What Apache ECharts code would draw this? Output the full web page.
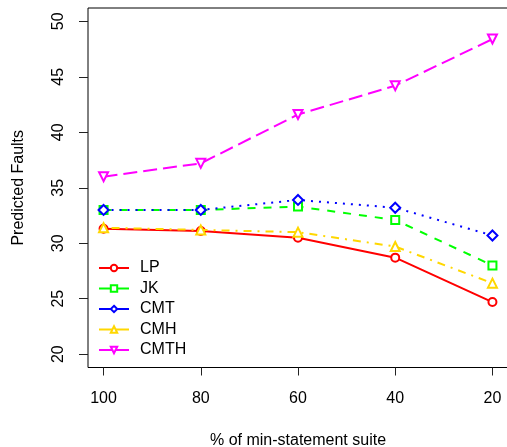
<!DOCTYPE html>
<html>
<head>
<meta charset="utf-8">
<script src="https://cdn.jsdelivr.net/npm/echarts@6/dist/echarts.min.js"></script>
<style>
  html, body { margin: 0; padding: 0; background: #fff; }
  #chart { width: 507px; height: 447px; }
</style>
</head>
<body>
<div id="chart"></div>
<script>
// % of min-statement suite (x, shown reversed)
const suitePct = [100, 80, 60, 40, 20];
const xTicks = [100, 80, 60, 40, 20];
const yTicks = [20, 25, 30, 35, 40, 45, 50];

// predicted faults per technique
const lp   = [31.3, 31.1, 30.5, 28.7, 24.7];
const jk   = [33.0, 33.0, 33.3, 32.1, 28.0];
const cmt  = [33.0, 33.0, 33.9, 33.2, 30.7];
const cmh  = [31.4, 31.2, 31.0, 29.7, 26.4];
const cmth = [36.0, 37.2, 41.6, 44.2, 48.4];

const names = ["LP", "JK", "CMT", "CMH", "CMTH"];
const values = [lp, jk, cmt, cmh, cmth];

// look of each line (R style: col / lty / pch)
const colors = ["#ff0000", "#00ff00", "#0000ff", "#ffd700", "#ff00ff"];
const dashes = ["solid", [8, 8], [2, 6], [2, 6, 8, 6], [14, 6]];
const symbols = ["emptyCircle", "emptyRect", "emptyDiamond", "emptyTriangle", "emptyTriangle"];
const rotates = [0, 0, 0, 0, 180];
const sizes = [8, 8, 10, 9, 9];

const font = "Liberation Sans, Arial, sans-serif";

let myChart = echarts.init(document.getElementById("chart"));

let series = names.map((n, i) => ({
  name: n,
  type: "line",
  data: suitePct.map((x, j) => [x, values[i][j]]),
  symbol: symbols[i],
  symbolRotate: rotates[i],
  symbolSize: sizes[i],
  showSymbol: true,
  lineStyle: { color: colors[i], width: 2, type: dashes[i] },
  itemStyle: { color: colors[i], borderWidth: 2 },
  animation: false,
  z: 2 + i, // later lines drawn on top, like R
}));

myChart.setOption({
  backgroundColor: "#fff",
  textStyle: { fontFamily: font },
  grid: {
    left: 88,
    top: 8,
    width: 420,
    height: 359.5,
    outerBoundsMode: "none",
    show: true,
    borderColor: "#000",
    borderWidth: 1,
    backgroundColor: "transparent",
  },
  legend: {
    orient: "vertical",
    left: 93,
    top: 255,
    itemWidth: 30,
    itemHeight: 8,
    itemGap: 4.5,
    lineStyle: { type: [200, 0], width: 2 },
    textStyle: { fontSize: 16, color: "#000", fontFamily: font, padding: [0, 0, 0, 6] },
    data: names,
  },
  xAxis: {
    type: "value",
    inverse: true,
    min: 16.8,
    max: 103.2,
    name: "% of min-statement suite",
    nameLocation: "middle",
    nameGap: 65,
    nameTextStyle: { fontSize: 16, color: "#000", fontFamily: font },
    axisLine: { show: false },
    axisTick: { show: true, inside: false, length: 8, lineStyle: { color: "#222" }, customValues: xTicks },
    axisLabel: { fontSize: 16, color: "#000", margin: 23, customValues: xTicks },
    splitLine: { show: false },
  },
  yAxis: {
    type: "value",
    min: 18.8,
    max: 51.2,
    name: "Predicted Faults",
    nameLocation: "middle",
    nameGap: 61,
    nameTextStyle: { fontSize: 16, color: "#000", fontFamily: font },
    axisLine: { show: false },
    axisTick: { show: true, inside: false, length: 9, lineStyle: { color: "#222" }, customValues: yTicks },
    axisLabel: { fontSize: 16, color: "#000", margin: 21, rotate: 90, customValues: yTicks },
    splitLine: { show: false },
  },
  series: series,
});
</script>
</body>
</html>
